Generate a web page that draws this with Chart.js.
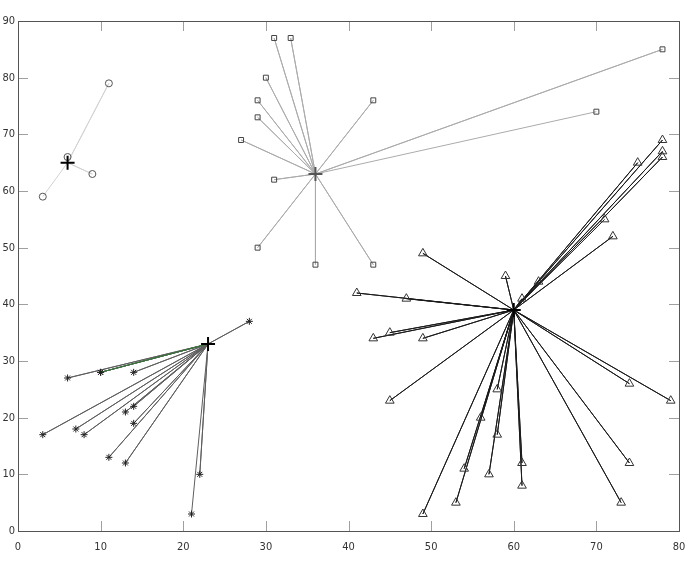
<!DOCTYPE html>
<html>
<head>
<meta charset="utf-8">
<script src="https://cdn.jsdelivr.net/npm/chart.js@4.4.1/dist/chart.umd.min.js"></script>
<style>
  html, body { margin: 0; padding: 0; background: #fff; }
  #wrap { width: 692px; height: 568px; }
</style>
</head>
<body>
<div id="wrap"><canvas id="chart"></canvas></div>
<script>
// cluster centres
const centerCircle = [6, 65];
const centerSquare = [36, 63];
const centerStar = [23, 33];
const centerTriangle = [60, 39];

// cluster members
const circleX = [6, 11, 9, 3];
const circleY = [66, 79, 63, 59];

const squareX = [31, 33, 30, 29, 29, 27, 31, 29, 36, 43, 43, 78, 70];
const squareY = [87, 87, 80, 76, 73, 69, 62, 50, 47, 47, 76, 85, 74];

const starX = [28, 10, 10, 6, 14, 3, 7, 8, 13, 14, 14, 11, 13, 22, 21];
const starY = [37, 28, 28, 27, 28, 17, 18, 17, 21, 22, 19, 13, 12, 10, 3];
const greenIndex = 1;

const triX = [49, 59, 41, 47, 61, 63, 45, 43, 49, 45, 58, 56, 58, 54, 57, 61, 61, 53, 49, 74, 79, 74, 73, 72, 78, 78, 78, 75, 71];
const triY = [49, 45, 42, 41, 41, 44, 35, 34, 34, 23, 25, 20, 17, 11, 10, 12, 8, 5, 3, 26, 23, 12, 5, 52, 69, 67, 66, 65, 55];

const xTicks = [0, 10, 20, 30, 40, 50, 60, 70, 80];
const yTicks = [0, 10, 20, 30, 40, 50, 60, 70, 80, 90];

function points(xs, ys) {
    return xs.map((x, i) => ({ x, y: ys[i] }));
}

// centre -> p1 -> centre -> p2 ... so every member gets a spoke
function spokes(center, xs, ys) {
    const out = [];
    xs.forEach((x, i) => {
        out.push({ x: center[0], y: center[1] });
        out.push({ x, y: ys[i] });
    });
    return out;
}

function lineSet(data, color, order = 3) {
    return {
        type: 'scatter',
        data,
        showLine: true,
        borderColor: color,
        borderWidth: 1,
        pointRadius: 0,
        fill: false,
        order,
    };
}

function markerSet(data, style, radius, color) {
    return {
        type: 'scatter',
        data,
        pointStyle: style,
        pointRadius: radius,
        pointBorderColor: color,
        pointBackgroundColor: 'rgba(255,255,255,0)',
        pointBorderWidth: 1,
        showLine: false,
        order: 1,
    };
}

const datasets = [
    lineSet(spokes(centerCircle, circleX, circleY), '#d2d2d2'),
    lineSet(spokes(centerSquare, squareX, squareY), '#ababab'),
    lineSet(spokes(centerStar, starX, starY), '#5e5e5e'),
    lineSet(spokes(centerStar, [starX[greenIndex]], [starY[greenIndex]]), '#2f7a32', 2),
    lineSet(spokes(centerTriangle, triX, triY), '#1a1a1a'),
    markerSet(points(circleX, circleY), 'circle', 3.5, '#555'),
    markerSet(points(squareX, squareY), 'rect', 3.5, '#444'),
    markerSet(points(starX, starY), 'star', 3.5, '#222'),
    markerSet(points(triX, triY), 'triangle', 5, '#333'),
];

[centerCircle, centerSquare, centerStar, centerTriangle].forEach((c, i) => {
    datasets.push({
        type: 'scatter',
        data: [{ x: c[0], y: c[1] }],
        pointStyle: 'cross',
        pointRadius: 7,
        pointBorderWidth: 2,
        pointBorderColor: i == 1 ? '#555' : '#000',
        order: 0,
    });
});

// box round the plot and ticks pointing inwards on all four sides
const boxTicks = {
    id: 'boxTicks',
    afterDatasetsDraw(chart) {
        const { ctx, chartArea: a, scales } = chart;
        ctx.save();
        ctx.lineWidth = 1;
        ctx.strokeStyle = '#a0a0a0';
        ctx.beginPath();
        xTicks.forEach(v => {
            const px = Math.round(scales.x.getPixelForValue(v)) + 0.5;
            ctx.moveTo(px, a.bottom); ctx.lineTo(px, a.bottom - 10);
            ctx.moveTo(px, a.top); ctx.lineTo(px, a.top + 10);
        });
        yTicks.forEach(v => {
            const py = Math.round(scales.y.getPixelForValue(v)) + 0.5;
            ctx.moveTo(a.left, py); ctx.lineTo(a.left + 10, py);
            ctx.moveTo(a.right, py); ctx.lineTo(a.right - 10, py);
        });
        ctx.stroke();
        ctx.strokeStyle = '#555';
        ctx.strokeRect(Math.round(a.left) + 0.5, Math.round(a.top) + 0.5,
            Math.round(a.right - a.left), Math.round(a.bottom - a.top));
        ctx.restore();
    }
};

const tickFont = { family: "'DejaVu Sans Condensed', 'Liberation Sans Narrow', sans-serif", size: 11 };

new Chart(document.getElementById('chart'), {
    type: 'scatter',
    data: { datasets },
    plugins: [boxTicks],
    options: {
        responsive: true,
        maintainAspectRatio: false,
        animation: false,
        layout: { padding: { top: 21, right: 13, left: 0, bottom: 0 } },
        plugins: {
            legend: { display: false },
            tooltip: { enabled: false },
        },
        scales: {
            x: {
                type: 'linear',
                min: 0,
                max: 80,
                afterBuildTicks: s => { s.ticks = xTicks.map(value => ({ value })); },
                afterFit: s => { s.height = 37; },
                grid: { display: false, drawTicks: false },
                border: { display: false },
                ticks: { color: '#333', font: { ...tickFont, lineHeight: 1.82 }, padding: 6, maxRotation: 0 },
            },
            y: {
                type: 'linear',
                min: 0,
                max: 90,
                afterBuildTicks: s => { s.ticks = yTicks.map(value => ({ value })); },
                afterFit: s => { s.width = 18; },
                grid: { display: false, drawTicks: false },
                border: { display: false },
                ticks: { color: '#333', font: tickFont, padding: 3 },
            },
        },
    },
});
</script>
</body>
</html>
